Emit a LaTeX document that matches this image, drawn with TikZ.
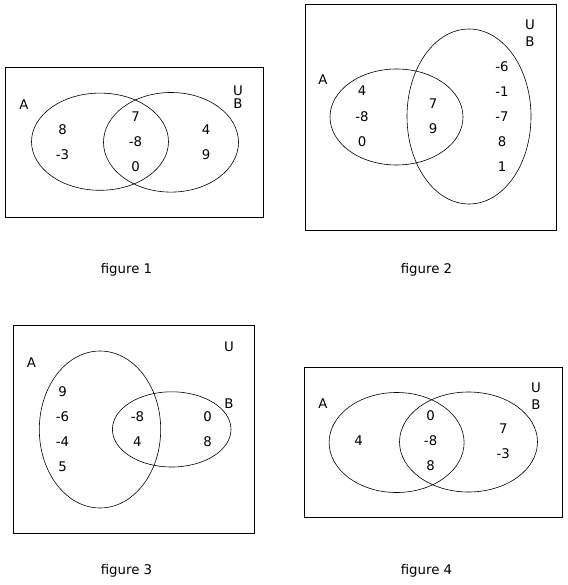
\documentclass[tikz,border=0pt]{standalone}
\usepackage{fontspec}
\setmainfont{DejaVu Sans}
\usepackage{tikz}
\usetikzlibrary{positioning}

\tikzset{
    khung/.style={draw, line width=0.8pt},
    tapho/.style={draw, line width=0.6pt},
    so/.style={inner sep=0pt, font=\fontsize{13.3}{16}\selectfont},
}

\begin{document}
\begin{tikzpicture}[x=1pt, y=-1pt]
    \useasboundingbox (0,0) rectangle (567,585);

    % figure 1: hai tập A, B cắt nhau
    \draw[khung] (5,67) rectangle (263,217);
    \draw[tapho] (100,141.7) ellipse (68.5 and 48.6); % tập A
    \draw[tapho] (171,142.3) ellipse (67.5 and 49.8); % tập B
    \node[so] (a1) at (24,105) {A};
    \node[so] (u1) at (238,90.5) {U};
    \node[so] (b1) at (238,104) {B};
    \node[so] at (62.5,130) {8};
    \node[so] at (62.5,154.5) {-3};
    \node[so] at (135.5,116.6) {7};
    \node[so] at (135.5,141.7) {-8};
    \node[so] at (135.5,166.8) {0};
    \node[so] at (206,130) {4};
    \node[so] at (206,154.5) {9};
    \node[so] (cap1) at (126.5,270) {figure 1};

    % figure 2: B là elip đứng
    \draw[khung] (305,4) rectangle (556,230);
    \draw[tapho] (396.5,117) ellipse (66.5 and 48); % tập A
    \draw[tapho] (469,116.5) ellipse (62 and 87.5); % tập B
    \node[so] (a2) at (323,80) {A};
    \node[so] (u2) at (530,25) {U};
    \node[so] (b2) at (530,42) {B};
    \node[so] at (362,91) {4};
    \node[so] at (362,117) {-8};
    \node[so] at (362,142) {0};
    \node[so] at (433,104) {7};
    \node[so] at (433,129) {9};
    \node[so] at (502,66.5) {-6};
    \node[so] at (502,91.5) {-1};
    \node[so] at (502,116.5) {-7};
    \node[so] at (502,141.5) {8};
    \node[so] at (502,166.5) {1};
    \node[so] (cap2) at (426.5,270) {figure 2};

    % figure 3: A là elip đứng
    \draw[khung] (13,325) rectangle (254,533);
    \draw[tapho] (100,429.5) ellipse (60.7 and 78.5); % tập A
    \draw[tapho] (171.7,429.4) ellipse (59.3 and 37.6); % tập B
    \node[so] (a3) at (31.5,362.4) {A};
    \node[so] (u3) at (229,346.7) {U};
    \node[so] (b3) at (229,403.5) {B};
    \node[so] at (62.5,391.8) {9};
    \node[so] at (62.5,416.9) {-6};
    \node[so] at (62.5,441.9) {-4};
    \node[so] at (62.5,466.9) {5};
    \node[so] at (137.4,416.9) {-8};
    \node[so] at (137.4,441.9) {4};
    \node[so] at (207.5,416.9) {0};
    \node[so] at (207.5,441.9) {8};
    \node[so] (cap3) at (126.5,571) {figure 3};

    % figure 4
    \draw[khung] (304,367) rectangle (562,517);
    \draw[tapho] (396.6,442.5) ellipse (67.5 and 50); % tập A
    \draw[tapho] (468.5,442) ellipse (69 and 50); % tập B
    \node[so] (a4) at (323,404) {A};
    \node[so] (u4) at (536,388) {U};
    \node[so] (b4) at (536,405) {B};
    \node[so] at (358.6,441) {4};
    \node[so] at (430.6,415.5) {0};
    \node[so] at (430.6,441) {-8};
    \node[so] at (430.6,466) {8};
    \node[so] at (503.3,429) {7};
    \node[so] at (503.3,453.5) {-3};
    \node[so] (cap4) at (426.5,571) {figure 4};
\end{tikzpicture}
\end{document}
